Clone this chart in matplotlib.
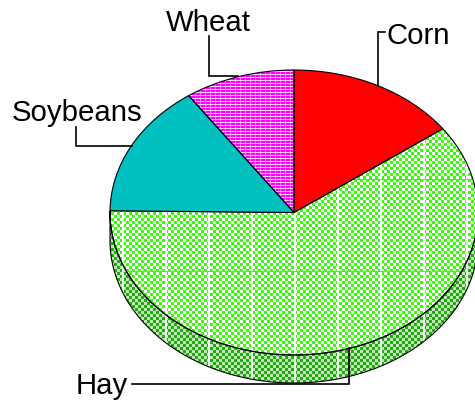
import numpy as np
import matplotlib
matplotlib.use('Agg')
import matplotlib.pyplot as plt
from matplotlib.patches import Polygon

crops = ['Corn', 'Hay', 'Soybeans', 'Wheat']
shares = [15, 60.2, 15.1, 9.7]
colors = ['#ff0000', 'none', '#00c0c0', 'none']

W, H = 475, 402
CX, CY, RX, RY = 294, 213.5, 184, 142.5
DEPTH = 28 / RY

plt.rcParams['font.family'] = ['Liberation Sans', 'DejaVu Sans']

yy, xx = np.mgrid[0:H, 0:W]


# pixel textures for the two patterned slices
def checker(c1, c2):
    mask = ((xx // 3) + (yy // 3)) % 2 == 0
    img = np.zeros((H, W, 3))
    img[mask] = c1
    img[~mask] = c2
    return img


seams = (xx[0] - 294) % 43 < 2

hay_tex = checker((0.2, 1, 0), (1, 1, 1))
hay_tex[:, seams] = (1, 1, 1)
hay_tex[(yy[:, 0] - 180) % 92 == 0, :] = (0.25, 1, 0)

side_tex = checker((0.12, 0.68, 0.05), (0.76, 0.92, 0.72))
side_tex[:, seams] = (0.92, 0.98, 0.92)

wheat_tex = np.zeros((H, W, 3)) + (1, 0, 1)
wheat_tex[(xx % 5 == 0)] = (1, 0.4, 1)
wheat_tex[yy % 3 == 0] = (1, 0.8, 1)

fig = plt.figure(figsize=(W / 100, H / 100), dpi=100)
ax = fig.add_axes([0, 0, 1, 1])
limits = ((0 - CX) / RX, (W - CX) / RX, (CY - H) / RY, CY / RY)

wedges, _ = ax.pie(shares, colors=colors, startangle=90, counterclock=False, radius=1,
                   wedgeprops={'edgecolor': 'black', 'linewidth': 0.8, 'zorder': 3})
ax.set_aspect('auto')

# side wall below the hay slice
t = np.radians(np.linspace(wedges[1].theta1, 0, 200))
top = np.column_stack([np.cos(t), np.sin(t)])
bottom = top[::-1] - [0, DEPTH]
wall = Polygon(np.vstack([top, bottom]), closed=True, facecolor='none', edgecolor='black',
               linewidth=0.8, zorder=3)
ax.add_patch(wall)

for tex, patch in [(side_tex, wall), (hay_tex, wedges[1]), (wheat_tex, wedges[3])]:
    im = ax.imshow(tex, extent=limits, aspect='auto', interpolation='nearest', zorder=2)
    im.set_clip_path(patch)

ax.set_xlim(limits[0], limits[1])
ax.set_ylim(limits[2], limits[3])
ax.axis('off')

# labels and leader lines, in pixels of the picture
over = fig.add_axes([0, 0, 1, 1], facecolor='none')
over.set_xlim(0, W)
over.set_ylim(H, 0)
over.axis('off')

leaders = {
    'Corn': ([385, 378, 378], [33, 33, 87]),
    'Hay': ([132, 349, 349], [385, 385, 349]),
    'Soybeans': ([76, 76, 132], [128, 147, 147]),
    'Wheat': ([209, 209, 238], [37, 77, 77]),
}
anchors = {'Corn': (386, 44), 'Hay': (76, 394), 'Soybeans': (12, 121), 'Wheat': (166, 31)}

for name in crops:
    xs, ys = leaders[name]
    over.plot(xs, ys, color='black', linewidth=1.2, solid_joinstyle='miter')
    over.text(anchors[name][0], anchors[name][1], name, fontsize=21.2, ha='left', va='baseline',
              color='black')

fig.savefig('out.png', dpi=100)
